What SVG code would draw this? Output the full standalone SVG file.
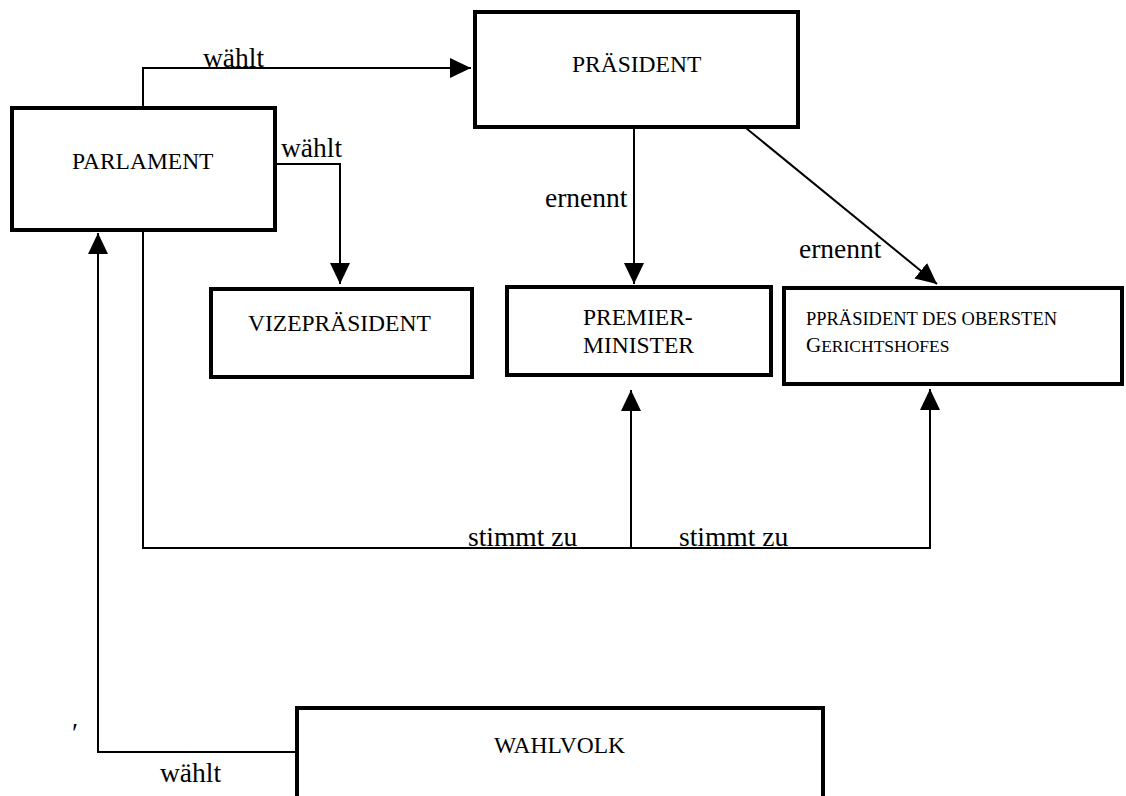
<svg xmlns="http://www.w3.org/2000/svg" width="1126" height="796" viewBox="0 0 1126 796">
<style>
.box{fill:#fff;stroke:#000;stroke-width:4}
.n{font-family:"Liberation Serif","Times New Roman",serif;font-size:23.5px;fill:#000}
.l{font-family:"Liberation Serif","Times New Roman",serif;font-size:27.5px;fill:#000}
.c{fill:none;stroke:#000;stroke-width:2}
</style>
<defs>
<marker id="ah" markerUnits="userSpaceOnUse" markerWidth="21" markerHeight="20" viewBox="0 0 21 20" refX="21" refY="10" orient="auto">
<path d="M0,0 L21,10 L0,20 z" fill="#000"/>
</marker>
</defs>
<rect width="1126" height="796" fill="#fff"/>
<g id="connectors">
<path class="c" d="M143,108 V68 H471" marker-end="url(#ah)"/>
<path class="c" d="M275,164 H340 V284" marker-end="url(#ah)"/>
<path class="c" d="M634,127 V284" marker-end="url(#ah)"/>
<path class="c" d="M741,124 L937,284" marker-end="url(#ah)"/>
<path class="c" d="M143,230 V548 H930 V389" marker-end="url(#ah)"/>
<path class="c" d="M631,548 V390" marker-end="url(#ah)"/>
<path class="c" d="M297,752 H98 V233" marker-end="url(#ah)"/>
<text class="l" x="203" y="67">wählt</text>
<text class="l" x="281" y="157">wählt</text>
<text class="l" x="545" y="207">ernennt</text>
<text class="l" x="799" y="258">ernennt</text>
<text class="l" x="468" y="546">stimmt zu</text>
<text class="l" x="679" y="546">stimmt zu</text>
<text class="l" x="160" y="782">wählt</text>
<text class="l" x="72" y="742">′</text>
</g>
<g id="parlament">
<rect class="box" x="12" y="108" width="263" height="122"/>
<text class="n" x="72" y="169">PARLAMENT</text>
</g>
<g id="praesident">
<rect class="box" x="475" y="12" width="323" height="115"/>
<text class="n" x="572" y="72">PRÄSIDENT</text>
</g>
<g id="vizepraesident">
<rect class="box" x="211" y="289" width="261" height="88"/>
<text class="n" x="248" y="331">VIZEPRÄSIDENT</text>
</g>
<g id="premierminister">
<rect class="box" x="507" y="287" width="264" height="88"/>
<text class="n" x="583" y="325">PREMIER-</text>
<text class="n" x="583" y="353">MINISTER</text>
</g>
<g id="oberster-gerichtshof">
<rect class="box" x="784" y="288" width="338" height="96"/>
<text class="n" x="806" y="325" style="font-size:18.5px" textLength="251" lengthAdjust="spacingAndGlyphs">PPRÄSIDENT DES OBERSTEN</text>
<text class="n" x="806" y="352"><tspan style="font-size:21px">G</tspan><tspan style="font-size:17.5px">ERICHTSHOFES</tspan></text>
</g>
<g id="wahlvolk">
<rect class="box" x="297" y="708" width="526" height="100"/>
<text class="n" x="494" y="753">WAHLVOLK</text>
</g>
</svg>
